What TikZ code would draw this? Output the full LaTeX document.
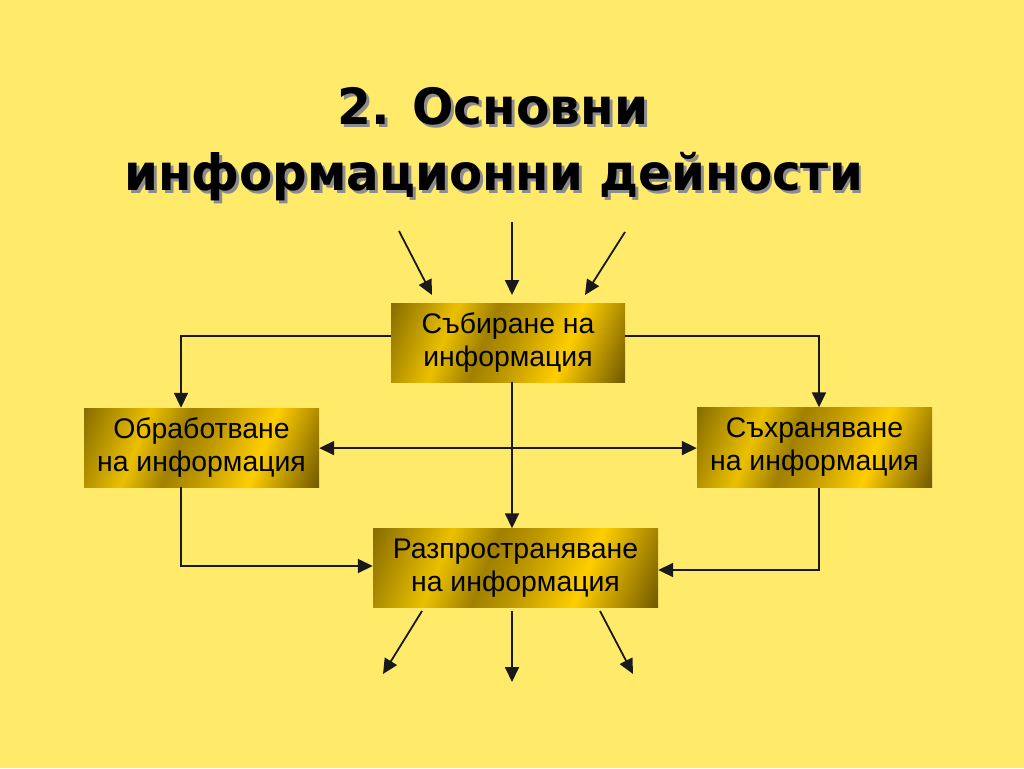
\documentclass[tikz,border=0pt]{standalone}
\usepackage{fontspec}
\usepackage{graphicx}
\setmainfont{Liberation Sans}
\newfontfamily\titlefont{DejaVu Sans}
\usetikzlibrary{arrows.meta}
\definecolor{bgc}{RGB}{255,235,105}
\definecolor{gD}{RGB}{135,108,0}
\definecolor{gB}{RGB}{235,192,0}
\definecolor{gM}{RGB}{160,128,0}
\definecolor{gG}{RGB}{190,152,0}
\definecolor{gBB}{RGB}{255,206,0}
\definecolor{gE}{RGB}{112,88,0}
\definecolor{shadowc}{RGB}{140,140,140}
\pgfdeclarehorizontalshading{goldsh}{100bp}{color(0bp)=(gD); color(17.5bp)=(gD); color(34bp)=(gB); color(44bp)=(gM); color(52bp)=(gG); color(65bp)=(gBB); color(82.5bp)=(gE); color(100bp)=(gE)}
\newcommand{\shadowtext}[1]{\makebox[0pt][l]{\hspace{3pt}\raisebox{-3pt}{\textcolor{shadowc}{#1}}}#1}
\tikzset{
  boxst/.style={rectangle, inner sep=0pt, shade, shading=goldsh, shading angle=-21.8,
    font=\fontsize{28.4}{33}\selectfont, align=center, text=black},
  arr/.style={-{Triangle[length=15pt,width=14pt]}, line width=1.8pt, draw=black!90},
  darr/.style={{Triangle[length=15pt,width=14pt]}-{Triangle[length=15pt,width=14pt]}, line width=1.8pt, draw=black!90},
  titlest/.style={anchor=base, inner sep=0pt, font=\titlefont\bfseries\fontsize{50}{60}\selectfont, text=black},
}
\begin{document}
\begin{tikzpicture}[x=1pt,y=-1pt]
\useasboundingbox (0,0) rectangle (1024,768);
\fill[bgc] (0,0) rectangle (1024,768);
% title
\node[titlest] (t1) at (493,124) {\scalebox{0.975}[1]{\shadowtext{2. Основни}}};
\node[titlest] (t2) at (493.5,190) {\scalebox{0.967}[1]{\shadowtext{информационни дейности}}};
% boxes
\node[boxst, minimum width=234pt, minimum height=79pt] (top) at (508,342.5) {Събиране на\\информация};
\node[boxst, minimum width=235pt, minimum height=79pt] (left) at (201.5,447.5) {Обработване\\на информация};
\node[boxst, minimum width=235pt, minimum height=80pt] (right) at (814.5,447.5) {Съхраняване\\на информация};
\node[boxst, minimum width=285pt, minimum height=79pt] (bottom) at (515.5,568) {Разпространяване\\на информация};
% free ends
\coordinate (i1) at (399,231);
\coordinate (i1e) at (432,295);
\coordinate (i2) at (512,222);
\coordinate (i2e) at (512,295);
\coordinate (i3) at (625,232);
\coordinate (i3e) at (585,295);
\coordinate (o1) at (422,611);
\coordinate (o1e) at (383,674);
\coordinate (o2) at (512,611);
\coordinate (o2e) at (512,682);
\coordinate (o3) at (600,611);
\coordinate (o3e) at (633,674);
% connectors
\draw[arr] (i1) -- (i1e);
\draw[arr] (i2) -- (i2e);
\draw[arr] (i3) -- (i3e);
\draw[arr] ([yshift=6.5pt]top.west) -| ([xshift=-20.5pt]left.north);
\draw[arr] ([yshift=6.5pt]top.east) -| ([xshift=4.5pt]right.north);
\draw[darr] ([yshift=-0.6pt]left.east) -- ([yshift=-0.6pt]right.west);
\draw[arr] ([xshift=4pt]top.south) -- ([xshift=-3.5pt]bottom.north);
\draw[arr] ([xshift=-20.5pt]left.south) |- ([yshift=2pt]bottom.west);
\draw[arr] ([xshift=4.5pt]right.south) |- ([yshift=-2pt]bottom.east);
\draw[arr] (o1) -- (o1e);
\draw[arr] (o2) -- (o2e);
\draw[arr] (o3) -- (o3e);
\end{tikzpicture}
\end{document}
